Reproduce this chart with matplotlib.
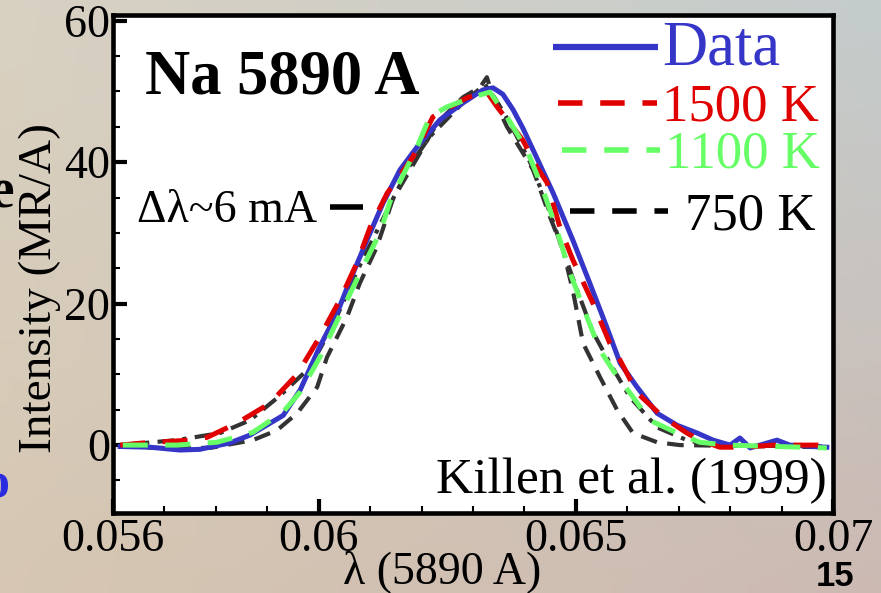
import numpy as np
import matplotlib.pyplot as plt
from matplotlib.ticker import FixedLocator, MultipleLocator

# wavelength offsets (A) and intensities (MR/A)
x_data = [0.05614, 0.05672, 0.05730, 0.05769, 0.05827, 0.05866, 0.05931, 0.05964,
          0.06002, 0.06036, 0.06061, 0.06094, 0.06125, 0.06158, 0.06197, 0.06236,
          0.06281, 0.06319, 0.06339, 0.06358, 0.06378, 0.06397, 0.06417, 0.06456,
          0.06494, 0.06527, 0.06561, 0.06586, 0.06619, 0.06658, 0.06697, 0.06736,
          0.06767, 0.06800, 0.06819, 0.06839, 0.06858, 0.06891, 0.06916, 0.06988]
y_data = [-0.2, -0.3, -0.7, -0.6, 0.3, 1.4, 4.2, 7.8,
          13.9, 18.7, 23.3, 29.0, 34.2, 38.9, 42.7, 46.0,
          48.4, 50.2, 50.5, 49.6, 47.4, 44.8, 41.7, 35.6,
          29.0, 22.9, 16.5, 11.6, 8.2, 4.5, 2.8, 1.7,
          0.7, 0.0, 1.0, -0.4, 0.0, 0.7, 0.0, -0.3]

x_1500 = [0.05614, 0.05658, 0.05750, 0.05783, 0.05841, 0.05905, 0.05958, 0.06002,
          0.06041, 0.06074, 0.06100, 0.06133, 0.06183, 0.06222, 0.06288, 0.06327,
          0.06347, 0.06397, 0.06424, 0.06444, 0.06469, 0.06494, 0.06533, 0.06566,
          0.06586, 0.06619, 0.06669, 0.06716, 0.06741, 0.06780, 0.06825, 0.06883, 0.06988]
y_1500 = [0.0, 0.3, 0.7, 1.1, 3.1, 5.9, 10.0, 15.3,
          20.5, 25.7, 30.8, 35.6, 40.7, 46.4, 49.1, 49.9,
          47.8, 43.1, 39.3, 37.1, 30.8, 26.2, 20.1, 14.4,
          12.0, 7.4, 4.0, 1.7, 0.7, -0.3, -0.3, 0.0, 0.0]

x_1100 = [0.05619, 0.05724, 0.05802, 0.05872, 0.05931, 0.05964, 0.06002, 0.06055,
          0.06080, 0.06119, 0.06139, 0.06191, 0.06216, 0.06249, 0.06300, 0.06333,
          0.06366, 0.06405, 0.06436, 0.06463, 0.06489, 0.06514, 0.06547, 0.06572,
          0.06611, 0.06644, 0.06697, 0.06741, 0.06794, 0.06988]
y_1100 = [0.0, 0.0, 0.4, 1.8, 4.7, 7.5, 12.4, 20.5,
          24.3, 30.0, 34.5, 42.1, 46.4, 47.8, 49.2, 49.9,
          46.4, 41.7, 36.1, 30.4, 24.3, 19.5, 13.4, 10.6,
          6.8, 3.5, 1.7, 0.4, 0.0, -0.4]

x_750 = [0.05614, 0.05678, 0.05789, 0.05872, 0.05919, 0.05958, 0.05997, 0.06016,
         0.06055, 0.06080, 0.06113, 0.06144, 0.06197, 0.06230, 0.06281, 0.06314,
         0.06327, 0.06339, 0.06366, 0.06397, 0.06417, 0.06450, 0.06475, 0.06494,
         0.06514, 0.06547, 0.06580, 0.06611, 0.06658, 0.06702, 0.06988]
y_750 = [0.0, -0.4, -0.4, 0.7, 2.1, 4.5, 8.2, 12.4,
         18.1, 22.9, 28.0, 34.7, 41.3, 45.5, 49.2, 50.6,
         52.0, 49.2, 45.0, 41.3, 38.9, 32.2, 27.6, 21.9,
         14.4, 9.6, 5.0, 1.7, 0.4, 0.0, -0.3]

# unlabeled dash-dot model curve
x_dd = [0.05614, 0.05724, 0.05808, 0.05866, 0.05925, 0.05983, 0.06028, 0.06074,
        0.06125, 0.06177, 0.06216, 0.06275, 0.06323, 0.06343, 0.06372, 0.06411,
        0.06444, 0.06475, 0.06502, 0.06533, 0.06566, 0.06605, 0.06658, 0.06716,
        0.06761, 0.06988]
y_dd = [0.0, 0.7, 1.7, 3.5, 7.0, 11.0, 17.0, 24.5,
        32.0, 39.5, 43.6, 48.0, 51.0, 49.0, 45.5, 40.0,
        34.0, 27.5, 22.0, 16.0, 11.6, 6.8, 2.5, 0.7,
        0.0, -0.2]

x_ticks = [0.056, 0.06, 0.065, 0.07]
x_ticklabels = ['0.056', '0.06', '0.065', '0.07']
y_ticks = [0, 20, 40, 60]

blue = '#3535c8'
red = '#e00000'
green = '#66ff66'
dark = '#333333'

plt.rcParams['font.family'] = ['Liberation Serif', 'DejaVu Serif']

fig = plt.figure(figsize=(8.81, 5.93), dpi=100)

# slide background (smooth tint)
bg = fig.add_axes([0, 0, 1, 1], zorder=-10)
c_tl = np.array([0.85, 0.82, 0.76]); c_tr = np.array([0.77, 0.80, 0.80])
c_bl = np.array([0.84, 0.78, 0.70]); c_br = np.array([0.80, 0.73, 0.70])
u = np.linspace(0, 1, 60)[None, :, None]
v = np.linspace(0, 1, 40)[:, None, None]
img = (1 - v) * ((1 - u) * c_tl + u * c_tr) + v * ((1 - u) * c_bl + u * c_br)
bg.imshow(img, aspect='auto', extent=[0, 1, 0, 1], interpolation='bilinear')
bg.axis('off')

ax = fig.add_axes([113/881, 1 - 513/593, 720/881, 498/593])
ax.set_facecolor('white')

ax.plot(x_750, y_750, color=dark, lw=3, dashes=(4, 2.5), zorder=2)
ax.plot(x_dd, y_dd, color=dark, lw=3, dashes=(4, 2, 1, 2), zorder=2)
ax.plot(x_data, y_data, color=blue, lw=3.6, zorder=3)
ax.plot(x_1500, y_1500, color=red, lw=3.6, dashes=(5, 3.5), zorder=4)
ax.plot(x_1100, y_1100, color=green, lw=3.6, dashes=(5, 3.5), zorder=5)

ax.set_xlim(0.056, 0.07)
ax.set_ylim(-9.6, 60.8)
ax.xaxis.set_major_locator(FixedLocator(x_ticks))
ax.set_xticklabels(x_ticklabels)
ax.xaxis.set_minor_locator(MultipleLocator(0.001))
ax.yaxis.set_major_locator(FixedLocator(y_ticks))
ax.yaxis.set_minor_locator(MultipleLocator(5))
ax.tick_params(which='both', direction='in', top=False, right=False, labelsize=33)
ax.tick_params(which='major', length=10, width=3)
ax.tick_params(which='minor', length=5, width=1.5)
ax.tick_params(axis='y', pad=2)
ax.tick_params(axis='x', pad=4)
for s in ax.spines.values():
    s.set_linewidth(3.3)

fig.text(40/881, 1 - 288/593, 'Intensity (MR/A)', rotation=90, fontsize=34,
         ha='center', va='center')
fig.text(442/881, 1 - 572/593, 'λ (5890 A)', fontsize=33, ha='center', va='center')

ax.text(0.044, 0.843, 'Na 5890 A', transform=ax.transAxes, fontsize=45,
        fontweight='bold', va='baseline')
ax.text(0.034, 0.584, 'Δλ~6 mA', transform=ax.transAxes, fontsize=33, va='baseline')
ax.plot([0.06022, 0.06086], [33.7, 33.7], color='black', lw=4, solid_capstyle='butt')
ax.text(0.9917, 0.040, 'Killen et al. (1999)', transform=ax.transAxes, fontsize=37,
        ha='right', va='baseline')

# legend drawn by hand
ax.plot([0.611, 0.757], [0.936, 0.936], transform=ax.transAxes, color=blue, lw=4.5,
        solid_capstyle='butt', clip_on=False)
ax.text(0.7625, 0.900, 'Data', transform=ax.transAxes, fontsize=45, color=blue,
        va='baseline')
ax.plot([0.618, 0.756], [0.823, 0.823], transform=ax.transAxes, color=red, lw=4,
        dashes=(4.4, 3.2), clip_on=False)
ax.text(0.7625, 0.789, '1500 K', transform=ax.transAxes, fontsize=38, color=red,
        va='baseline')
ax.plot([0.624, 0.760], [0.729, 0.729], transform=ax.transAxes, color=green, lw=4,
        dashes=(4.4, 3.2), clip_on=False)
ax.text(0.767, 0.693, '1100 K', transform=ax.transAxes, fontsize=38, color=green,
        va='baseline')
ax.plot([0.635, 0.771], [0.606, 0.606], transform=ax.transAxes, color='black', lw=4,
        dashes=(4.4, 3.2), clip_on=False)
ax.text(0.794, 0.570, '750 K', transform=ax.transAxes, fontsize=38, color='black',
        va='baseline')

# slide fragments around the chart
fig.text(14/881, 1 - 207/593, 'e', fontsize=40, fontweight='bold', ha='right',
         va='baseline')
fig.text(9/881, 1 - 497/593, 'o', fontsize=36, fontweight='bold', color='#2a2ae0',
         ha='right', va='baseline')
fig.text(835/881, 1 - 586/593, '15', fontsize=25, fontweight='bold',
         family='Liberation Sans', ha='center', va='baseline')

fig.savefig('out.png', dpi=100)
